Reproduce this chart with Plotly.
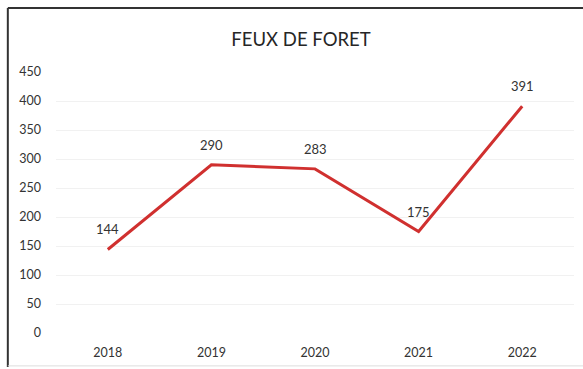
import plotly.graph_objects as go

# Forest fires per year
years = ["2018", "2019", "2020", "2021", "2022"]
fires = [144, 290, 283, 175, 391]
y_ticks = [0, 50, 100, 150, 200, 250, 300, 350, 400, 450]

text_color = "#333333"
font_family = "Lato, 'Open Sans', sans-serif"

fig = go.Figure()
fig.add_trace(go.Scatter(
    x=years,
    y=fires,
    mode="lines",
    line=dict(color="#d0302f", width=3),
    hoverinfo="x+y",
))

# value labels sitting above each point (category index on the x axis)
for i, v in enumerate(fires):
    fig.add_annotation(
        x=i, y=v, xref="x", yref="y", text=str(v), showarrow=False,
        yshift=20, font=dict(size=13, color=text_color, family=font_family),
    )

fig.update_layout(
    width=583,
    height=369,
    margin=dict(l=56, r=9, t=72, b=36),
    paper_bgcolor="white",
    plot_bgcolor="white",
    showlegend=False,
    font=dict(family=font_family, color=text_color, size=12),
    title=dict(
        text="FEUX DE FORET",
        x=0.473,
        xref="paper",
        xanchor="center",
        y=0.893,
        yref="container",
        yanchor="middle",
        font=dict(size=18.5, color="#262626", family=font_family),
    ),
    xaxis=dict(
        type="category",
        range=[-0.5, 4.5],
        showgrid=False,
        showline=False,
        zeroline=False,
        ticks="",
        ticklabelstandoff=10,
        tickfont=dict(size=12.5, color=text_color),
    ),
    yaxis=dict(
        range=[0, 450],
        tickvals=y_ticks,
        showgrid=True,
        gridcolor="#f1f1f1",
        gridwidth=1,
        zeroline=False,
        showline=False,
        ticks="",
        ticklabelstandoff=14,
        tickfont=dict(size=12.5, color=text_color),
    ),
    shapes=[
        # chart frame: dark top and left edges, pale bottom edge
        dict(type="line", xref="paper", yref="paper",
             x0=-0.093, x1=1.02, y0=1.245, y1=1.245,
             line=dict(color="#333333", width=2)),
        dict(type="line", xref="paper", yref="paper",
             x0=-0.093, x1=-0.093, y0=1.245, y1=-0.13,
             line=dict(color="#333333", width=2)),
        dict(type="line", xref="paper", yref="paper",
             x0=-0.093, x1=1.02, y0=-0.126, y1=-0.126,
             line=dict(color="#dddddd", width=1)),
    ],
)

fig.write_html("out.html")
